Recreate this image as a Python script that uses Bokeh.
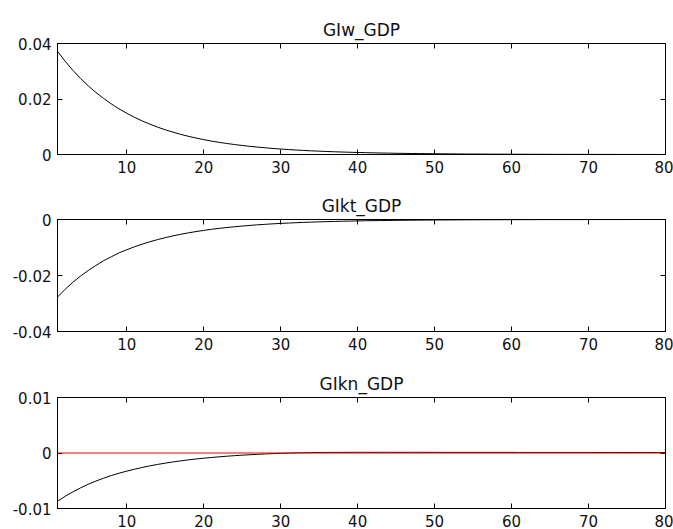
from bokeh.plotting import figure
from bokeh.layouts import column
from bokeh.models import LinearAxis, FixedTicker, Range1d, Span, CustomLabelingPolicy
from bokeh.embed import file_html
from bokeh.resources import INLINE

periods = list(range(1, 81))

titles = ["GIw_GDP", "GIkt_GDP", "GIkn_GDP"]

giw_gdp = [
    0.03720, 0.03359, 0.03033, 0.02739, 0.02473, 0.02233, 0.02017, 0.01821, 0.01644, 0.01485,
    0.01341, 0.01211, 0.01093, 0.00987, 0.00891, 0.00805, 0.00727, 0.00656, 0.00593, 0.00535,
    0.00484, 0.00438, 0.00397, 0.00359, 0.00325, 0.00294, 0.00266, 0.00241, 0.00218, 0.00197,
    0.00178, 0.00161, 0.00146, 0.00132, 0.00120, 0.00108, 0.00098, 0.00089, 0.00080, 0.00073,
    0.00066, 0.00060, 0.00054, 0.00049, 0.00044, 0.00040, 0.00036, 0.00033, 0.00030, 0.00027,
    0.00024, 0.00022, 0.00020, 0.00018, 0.00016, 0.00015, 0.00013, 0.00012, 0.00011, 0.00010,
    0.00009, 0.00008, 0.00007, 0.00007, 0.00006, 0.00005, 0.00005, 0.00004, 0.00004, 0.00004,
    0.00003, 0.00003, 0.00003, 0.00002, 0.00002, 0.00002, 0.00002, 0.00002, 0.00001, 0.00001,
]

gikt_gdp = [
    -0.02770, -0.02490, -0.02240, -0.02020, -0.01820, -0.01640, -0.01470, -0.01330, -0.01190, -0.01080,
    -0.00975, -0.00880, -0.00795, -0.00718, -0.00648, -0.00585, -0.00529, -0.00477, -0.00431, -0.00389,
    -0.00351, -0.00317, -0.00286, -0.00259, -0.00234, -0.00211, -0.00190, -0.00172, -0.00155, -0.00140,
    -0.00127, -0.00114, -0.00103, -0.00093, -0.00084, -0.00076, -0.00069, -0.00062, -0.00056, -0.00050,
    -0.00045, -0.00041, -0.00037, -0.00033, -0.00030, -0.00027, -0.00025, -0.00022, -0.00020, -0.00018,
    -0.00016, -0.00015, -0.00013, -0.00012, -0.00011, -0.00010, -0.00009, -0.00008, -0.00007, -0.00007,
    -0.00006, -0.00005, -0.00005, -0.00004, -0.00004, -0.00003, -0.00003, -0.00003, -0.00003, -0.00002,
    -0.00002, -0.00002, -0.00002, -0.00002, -0.00002, -0.00001, -0.00001, -0.00001, -0.00001, -0.00001,
]

gikn_gdp = [
    -0.00870, -0.00780, -0.00700, -0.00628, -0.00563, -0.00505, -0.00453, -0.00406, -0.00364, -0.00327,
    -0.00292, -0.00261, -0.00232, -0.00206, -0.00183, -0.00161, -0.00142, -0.00124, -0.00108, -0.00094,
    -0.00081, -0.00069, -0.00058, -0.00048, -0.00039, -0.00031, -0.00024, -0.00017, -0.00011, -0.00006,
    -0.00002, 0.00002, 0.00005, 0.00007, 0.00009, 0.00010, 0.00011, 0.00011, 0.00012, 0.00012,
    0.00012, 0.00012, 0.00012, 0.00012, 0.00012, 0.00012, 0.00012, 0.00012, 0.00012, 0.00012,
    0.00011, 0.00011, 0.00011, 0.00011, 0.00011, 0.00011, 0.00011, 0.00011, 0.00011, 0.00011,
    0.00010, 0.00010, 0.00010, 0.00010, 0.00010, 0.00010, 0.00010, 0.00010, 0.00010, 0.00010,
    0.00009, 0.00009, 0.00009, 0.00009, 0.00009, 0.00009, 0.00009, 0.00009, 0.00009, 0.00009,
]

x_ticks = [10, 20, 30, 40, 50, 60, 70, 80]
y_ticks_1 = [0, 0.02, 0.04]
y_labels_1 = ["0", "0.02", "0.04"]
y_ticks_2 = [-0.04, -0.02, 0]
y_labels_2 = ["-0.04", "-0.02", "0"]
y_ticks_3 = [-0.01, 0, 0.01]
y_labels_3 = ["-0.01", "0", "0.01"]

FONT = "DejaVu Sans"


def style_axis(ax, ticks, labels=None, show_labels=True):
    ax.ticker = FixedTicker(ticks=ticks)
    ax.axis_line_color = "black"
    ax.axis_line_width = 1
    ax.major_tick_line_color = "black"
    ax.major_tick_in = 5
    ax.major_tick_out = 0
    ax.minor_tick_in = 0
    ax.minor_tick_out = 0
    ax.major_label_text_font = FONT
    ax.major_label_text_color = "#111111"
    if show_labels:
        ax.major_label_text_font_size = "15px"
        ax.major_label_standoff = 6
        if labels is not None:
            ax.major_label_overrides = {t: l for t, l in zip(ticks, labels)}
    else:
        ax.major_label_text_font_size = "1px"
        ax.major_label_standoff = 0
        ax.major_label_policy = CustomLabelingPolicy(code="return new Set()")


def make_panel(title, yvals, yr, yticks, ylabels, height, top, bottom, zero_line=False):
    p = figure(width=673, height=height, x_range=Range1d(1, 80), y_range=Range1d(*yr),
               output_backend="svg", toolbar_location=None,
               min_border_left=57, min_border_right=8,
               min_border_top=top, min_border_bottom=bottom)
    p.title.text = title
    p.title.align = "center"
    p.title.text_font = FONT
    p.title.text_font_size = "17px"
    p.title.text_font_style = "normal"
    p.title.text_color = "#111111"
    p.title.standoff = 0
    p.grid.visible = False
    p.outline_line_color = "black"
    p.background_fill_color = "white"
    p.border_fill_color = "white"

    p.line(periods, yvals, color="black", line_width=1)
    if zero_line:
        p.add_layout(Span(location=0, dimension="width", line_color="#ff0000", line_width=1))

    style_axis(p.xaxis[0], x_ticks)
    style_axis(p.yaxis[0], yticks, ylabels)
    top_ax = LinearAxis()
    style_axis(top_ax, x_ticks, show_labels=False)
    p.add_layout(top_ax, "above")
    right_ax = LinearAxis()
    style_axis(right_ax, yticks, show_labels=False)
    p.add_layout(right_ax, "right")
    return p


p1 = make_panel(titles[0], giw_gdp, (0, 0.04), y_ticks_1, y_labels_1, 176, 43, 22)
p2 = make_panel(titles[1], gikt_gdp, (-0.04, 0), y_ticks_2, y_labels_2, 178, 43, 23)
p3 = make_panel(titles[2], gikn_gdp, (-0.01, 0.01), y_ticks_3, y_labels_3, 175, 43, 21, zero_line=True)

layout = column(p1, p2, p3, spacing=0)

open("out.html", "w").write(file_html(layout, INLINE))
